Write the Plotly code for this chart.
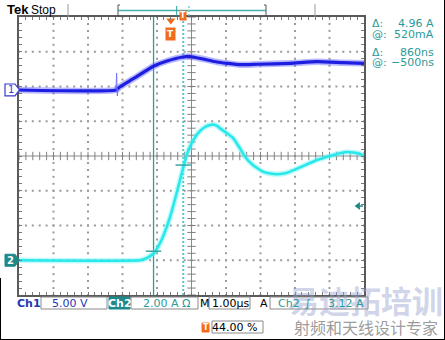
import plotly.graph_objects as go

# ---------------- data ----------------
# Ch1 (voltage, 5.00 V/div), time in microseconds relative to the trigger
ch1_time_us = [-4.4, -1.59, -1.47, -1.10, -0.49, -0.11, 0.35, 0.56, 0.93, 1.34,
               1.63, 2.01, 2.50, 3.46, 4.24, 4.99, 5.6]
ch1_volts = [0.0, 0.0, 0.47, 1.58, 3.45, 4.17, 4.75, 4.82, 4.46, 4.03,
             3.84, 3.64, 3.70, 3.84, 4.07, 3.93, 3.84]
# small glitch on Ch1 at the start of the ramp
spike_time_us = [-1.59, -1.57, -1.55, -1.53]
spike_volts = [0.0, 2.44, -0.87, 0.14]
# Ch2 (current, 2.00 A/div)
ch2_time_us = [-4.4, -0.89, -0.69, -0.60, -0.46, -0.34, -0.23, -0.02, 0.17, 0.32,
               0.46, 0.61, 0.79, 0.99, 1.11, 1.22, 1.34, 1.43, 1.60, 1.80,
               1.98, 2.15, 2.38, 2.67, 2.88, 3.08, 3.28, 3.46, 3.83, 4.24,
               4.61, 4.90, 5.14, 5.43, 5.6]
ch2_amps = [0.0, 0.0, 0.13, 0.24, 0.47, 0.88, 1.34, 2.49, 3.87, 5.02,
            6.06, 6.75, 7.32, 7.67, 7.77, 7.81, 7.73, 7.59, 7.35, 7.04,
            6.52, 5.96, 5.48, 5.10, 4.99, 4.95, 4.99, 5.10, 5.42, 5.77,
            6.00, 6.16, 6.23, 6.16, 6.00]
# cursors
cursor_time_us = [-0.50, 0.36]
cursor_amps = [0.52, 5.48]
trigger_level_amps = 3.12
readout_labels = ["Δ:", "@:", "Δ:", "@:"]
readout_values = ["4.96 A", "520mA", "860ns", "−500ns"]
status_ch1 = ["Ch1", "5.00 V"]
status_ch2 = ["Ch2", "2.00 A Ω"]
status_time = ["M", "1.00µs"]
status_trig = ["A", "Ch2", "∫", "3.12 A"]
trigger_pos_text = "44.00 %"

# ---------------- scope settings ----------------
CH1_V_PER_DIV = 5.0
CH1_OFFSET_DIV = 1.9
CH2_A_PER_DIV = 2.0
CH2_OFFSET_DIV = -3.0
US_PER_DIV = 1.0
TRIGGER_FRACTION = 0.44

X0 = -10 * TRIGGER_FRACTION * US_PER_DIV
X1 = X0 + 10 * US_PER_DIV
XC = X0 + 5 * US_PER_DIV


def ch1_div(vals):
    return [v / CH1_V_PER_DIV + CH1_OFFSET_DIV for v in vals]


def ch2_div(vals):
    return [a / CH2_A_PER_DIV + CH2_OFFSET_DIV for a in vals]


W, H = 445, 340
PL, PR, PT, PB = 19, 364, 17, 295


def px(x):
    return (x - PL) / (PR - PL)


def py(y):
    return (PB - y) / (PB - PT)


BLUE = "rgb(30,30,225)"
BLUE_TXT = "#2437b4"
TEAL = "#2a9a9a"
TEAL_FILL = "#1f8888"
ORANGE = "#f26a1b"
FONT = "DejaVu Sans"

fig = go.Figure()

# dotted graticule
gx, gy = [], []
for k in range(1, 10):
    if k == 5:
        continue
    for j in range(41):
        gx.append(X0 + k * US_PER_DIV)
        gy.append(-4 + 0.2 * j)
for k in range(-3, 4):
    if k == 0:
        continue
    for i in range(51):
        gx.append(X0 + 0.2 * i * US_PER_DIV)
        gy.append(k)
fig.add_trace(go.Scatter(x=gx, y=gy, mode="markers", hoverinfo="skip",
                         marker=dict(symbol="square", size=2, color="#9a9a9a",
                                     line=dict(width=0))))
# center-line ticks
fig.add_trace(go.Scatter(x=[X0 + 0.2 * i for i in range(51)], y=[0] * 51,
                         mode="markers", hoverinfo="skip",
                         marker=dict(symbol="line-ns", size=6,
                                     line=dict(width=1, color="#808080"))))
fig.add_trace(go.Scatter(x=[XC] * 41, y=[-4 + 0.2 * j for j in range(41)],
                         mode="markers", hoverinfo="skip",
                         marker=dict(symbol="line-ew", size=6,
                                     line=dict(width=1, color="#808080"))))

# Ch2 trace
fig.add_trace(go.Scatter(x=ch2_time_us, y=ch2_div(ch2_amps), mode="lines",
                         line=dict(color="rgba(110,245,245,0.45)", width=5.5,
                                   shape="spline", smoothing=0.35),
                         hoverinfo="skip"))
fig.add_trace(go.Scatter(x=ch2_time_us, y=ch2_div(ch2_amps), mode="lines",
                         line=dict(color="rgb(40,232,235)", width=2.6,
                                   shape="spline", smoothing=0.35)))
# Ch1 trace
fig.add_trace(go.Scatter(x=ch1_time_us, y=ch1_div(ch1_volts), mode="lines",
                         line=dict(color="rgba(100,100,255,0.45)", width=6.5,
                                   shape="spline", smoothing=0.5),
                         hoverinfo="skip"))
fig.add_trace(go.Scatter(x=ch1_time_us, y=ch1_div(ch1_volts), mode="lines",
                         line=dict(color=BLUE, width=3.2,
                                   shape="spline", smoothing=0.5)))
fig.add_trace(go.Scatter(x=spike_time_us, y=ch1_div(spike_volts), mode="lines",
                         line=dict(color="rgba(110,110,255,0.9)", width=1)))

# cursor cross marks
fig.add_trace(go.Scatter(x=cursor_time_us, y=ch2_div(cursor_amps), mode="markers",
                         marker=dict(symbol="line-ew", size=11,
                                     line=dict(width=1.5, color="#3aa6a6"))))
# trigger level arrow on the right
fig.add_trace(go.Scatter(x=[X1 - 0.17], y=ch2_div([trigger_level_amps]), mode="markers",
                         cliponaxis=False,
                         marker=dict(symbol="triangle-left", size=7, color=TEAL_FILL)))
# trigger position arrow at the top
fig.add_trace(go.Scatter(x=[0.0], y=[3.9], mode="markers", cliponaxis=False,
                         marker=dict(symbol="triangle-down", size=8, color=ORANGE)))

shapes = []
# center cross lines
shapes.append(dict(type="line", xref="x", yref="y", x0=XC, x1=XC, y0=-4, y1=4,
                   line=dict(color="#8a8a8a", width=1), layer="below"))
shapes.append(dict(type="line", xref="x", yref="y", x0=X0, x1=X1, y0=0, y1=0,
                   line=dict(color="#8a8a8a", width=1), layer="below"))
# vertical cursors
shapes.append(dict(type="line", xref="x", yref="y", x0=cursor_time_us[0], x1=cursor_time_us[0],
                   y0=-4, y1=4, line=dict(color="#2a9d9d", width=1.3), layer="below"))
shapes.append(dict(type="line", xref="x", yref="y", x0=cursor_time_us[1], x1=cursor_time_us[1],
                   y0=-4, y1=4, line=dict(color="#5cc6c6", width=2, dash="2px,2px"),
                   layer="below"))
# trigger level arrow stem
shapes.append(dict(type="line", xref="paper", yref="y", x0=px(358), x1=px(363),
                   y0=ch2_div([trigger_level_amps])[0], y1=ch2_div([trigger_level_amps])[0],
                   line=dict(color=TEAL_FILL, width=1.5)))


def path(pts):
    return "M " + " L ".join(f"{px(a):.5f},{py(b):.5f}" for a, b in pts) + " Z"


# channel markers on the left
y1m = 156 - CH1_OFFSET_DIV * 34.75
y2m = 156 - CH2_OFFSET_DIV * 34.75
shapes.append(dict(type="path", xref="paper", yref="paper",
                   path=path([(5, y1m - 6), (15, y1m - 6), (19.5, y1m), (15, y1m + 6), (5, y1m + 6)]),
                   fillcolor="white", line=dict(color="#3a3ad0", width=1.2)))
shapes.append(dict(type="path", xref="paper", yref="paper",
                   path=path([(5, y2m - 6), (15, y2m - 6), (19.5, y2m), (15, y2m + 6), (5, y2m + 6)]),
                   fillcolor=TEAL_FILL, line=dict(color=TEAL_FILL, width=1)))

# top record bar
gray = "#555555"
shapes += [
    dict(type="line", xref="paper", yref="paper", x0=px(68), x1=px(68), y0=py(4), y1=py(17),
         line=dict(color="#9a9a9a", width=1)),
    dict(type="line", xref="paper", yref="paper", x0=px(315), x1=px(315), y0=py(4), y1=py(17),
         line=dict(color="#9a9a9a", width=1)),
    dict(type="line", xref="paper", yref="paper", x0=px(118), x1=px(266), y0=py(10.5), y1=py(10.5),
         line=dict(color="#4ab0b0", width=1.3)),
    dict(type="path", xref="paper", yref="paper",
         path=f"M {px(120):.5f},{py(5):.5f} L {px(118):.5f},{py(5):.5f} L {px(118):.5f},{py(16):.5f} L {px(120):.5f},{py(16):.5f}",
         line=dict(color=gray, width=1)),
    dict(type="path", xref="paper", yref="paper",
         path=f"M {px(264):.5f},{py(5):.5f} L {px(266):.5f},{py(5):.5f} L {px(266):.5f},{py(16):.5f} L {px(264):.5f},{py(16):.5f}",
         line=dict(color=gray, width=1)),
    dict(type="line", xref="paper", yref="paper", x0=px(176.7), x1=px(176.7), y0=py(6), y1=py(16),
         line=dict(color="#2a9d9d", width=1)),
    dict(type="line", xref="paper", yref="paper", x0=px(189), x1=px(189), y0=py(6), y1=py(16),
         line=dict(color="#5cc6c6", width=1.3, dash="2px,2px")),
]


def box(x0, x1, y0, y1, fill="white", col="#8a8a8a"):
    return dict(type="rect", xref="paper", yref="paper", x0=px(x0), x1=px(x1),
                y0=py(y1), y1=py(y0), fillcolor=fill, line=dict(color=col, width=1))


shapes += [
    box(41, 107, 297, 309),
    box(109, 130, 297, 309, fill=TEAL_FILL, col=TEAL_FILL),
    box(131, 198, 297, 309),
    box(209, 250, 297, 309),
    box(270, 368, 297, 309),
    box(202, 209, 323, 332, fill=ORANGE, col=ORANGE),
    box(212, 263, 321, 333),
]
# outer border
shapes += [
    dict(type="line", xref="paper", yref="paper", x0=px(444.5), x1=px(444.5), y0=py(0), y1=py(340),
         line=dict(color="black", width=1)),
    dict(type="line", xref="paper", yref="paper", x0=px(0), x1=px(445), y0=py(339.5), y1=py(339.5),
         line=dict(color="black", width=1)),
    dict(type="line", xref="paper", yref="paper", x0=px(0.5), x1=px(0.5), y0=py(278), y1=py(340),
         line=dict(color="black", width=1)),
]

ann = []


def text(x, y, s, size=11, color="black", anchor="center", bold=False, family=FONT, **kw):
    if bold:
        s = "<b>" + s + "</b>"
    ann.append(dict(x=px(x), y=py(y), xref="paper", yref="paper", text=s, showarrow=False,
                    xanchor=anchor, yanchor="middle",
                    font=dict(size=size, color=color, family=family), **kw))


# watermark first so status texts draw over it
text(366, 300, "易迪拓培训", size=31, color="rgba(150,160,205,0.45)",
     family="Noto Sans CJK SC", bold=True)
text(366, 327, "射频和天线设计专家", size=16, color="rgba(130,130,130,0.8)",
     family="Noto Sans CJK SC")

text(5, 10, "Tek", size=13, bold=True, anchor="left", family="Liberation Sans")
text(29, 10, "Stop", size=12, anchor="left", family="Liberation Sans")
text(10.5, y1m, "1", size=10, color="#3a3ad0")
text(10.5, y2m, "2", size=10, color="white", bold=True)
ann.append(dict(x=px(183), y=py(10.5), xref="paper", yref="paper", text="<b>T</b>",
                showarrow=False, bgcolor=ORANGE, borderpad=0,
                font=dict(size=8, color="white", family=FONT)))
ann.append(dict(x=0.0, y=py(27), xref="x", yref="paper", text="<b>T</b>",
                showarrow=False, bgcolor=ORANGE, borderpad=1,
                font=dict(size=9, color="white", family=FONT)))
for i, (lab, val) in enumerate(zip(readout_labels, readout_values)):
    yy = [24, 34.5, 52, 62][i]
    text(370, yy, lab, size=11, color=TEAL, anchor="left")
    text(436, yy, val, size=11, color=TEAL, anchor="right")

text(28.5, 303, status_ch1[0], size=11, color=BLUE_TXT, bold=True)
text(70, 303, status_ch1[1], size=11, color=BLUE_TXT)
text(119.5, 303, status_ch2[0], size=11, color="white", bold=True)
text(166, 303, status_ch2[1], size=11, color=TEAL)
text(204.5, 303, status_time[0], size=11)
text(230, 303, status_time[1], size=11)
text(264, 303, status_trig[0], size=11)
text(289, 303, status_trig[1], size=11, color=TEAL)
text(308, 303, status_trig[2], size=11, color=TEAL)
text(346, 303, status_trig[3], size=11, color=TEAL)
text(205.5, 327.5, "T", size=8, color="white", bold=True)
text(234, 327, trigger_pos_text, size=11)

axis_common = dict(showgrid=False, zeroline=False, showticklabels=False,
                   ticks="inside", ticklen=3, tickcolor="#7a7a7a", tickwidth=1,
                   showline=True, linecolor="#5a5a5a", linewidth=2, mirror="allticks",
                   fixedrange=True)

fig.update_layout(
    width=W, height=H, autosize=False,
    margin=dict(l=PL, r=W - PR, t=PT, b=H - PB, pad=0),
    paper_bgcolor="white", plot_bgcolor="white",
    showlegend=False,
    xaxis=dict(range=[X0, X1], tick0=X0, dtick=0.2 * US_PER_DIV, **axis_common),
    yaxis=dict(range=[-4, 4], tick0=-4, dtick=0.2, **axis_common),
    shapes=shapes,
    annotations=ann,
)

fig.write_html("out.html")
